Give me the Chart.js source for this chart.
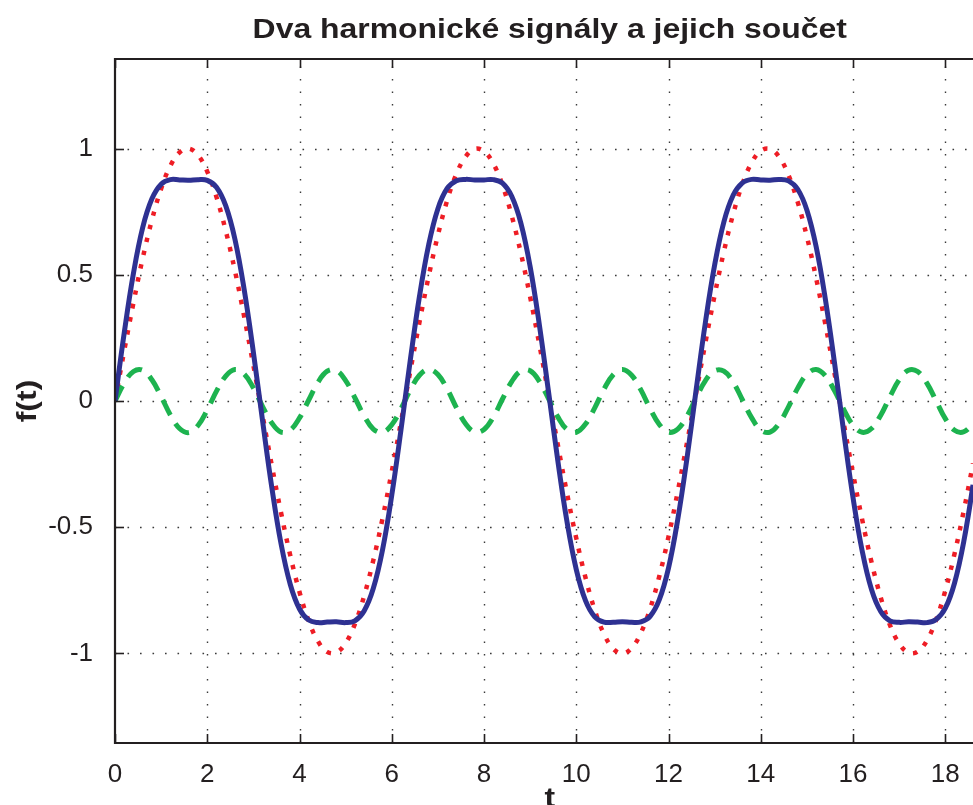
<!DOCTYPE html>
<html>
<head>
<meta charset="utf-8">
<script src="https://cdn.jsdelivr.net/npm/chart.js@4"></script>
<style>
  html, body { margin: 0; padding: 0; background: #fff; }
  #wrap { width: 973px; height: 805px; position: relative; }
</style>
</head>
<body>
<div id="wrap"><canvas id="c"></canvas></div>
<script>
// time samples (t)
const tValues = [
  0, 0.2, 0.4, 0.6, 0.8, 1, 1.2, 1.4, 1.6, 1.8,
  2, 2.2, 2.4, 2.6, 2.8, 3, 3.2, 3.4, 3.6, 3.8,
  4, 4.2, 4.4, 4.6, 4.8, 5, 5.2, 5.4, 5.6, 5.8,
  6, 6.2, 6.4, 6.6, 6.8, 7, 7.2, 7.4, 7.6, 7.8,
  8, 8.2, 8.4, 8.6, 8.8, 9, 9.2, 9.4, 9.6, 9.8,
  10, 10.2, 10.4, 10.6, 10.8, 11, 11.2, 11.4, 11.6, 11.8,
  12, 12.2, 12.4, 12.6, 12.8, 13, 13.2, 13.4, 13.6, 13.8,
  14, 14.2, 14.4, 14.6, 14.8, 15, 15.2, 15.4, 15.6, 15.8,
  16, 16.2, 16.4, 16.6, 16.8, 17, 17.2, 17.4, 17.6, 17.8,
  18, 18.2, 18.4, 18.6, 18.8
];

// red dotted signal
const redValues = [
  0, 0.199, 0.389, 0.565, 0.717, 0.841, 0.932, 0.985, 1.000, 0.974,
  0.909, 0.808, 0.675, 0.516, 0.335, 0.141, -0.058, -0.256, -0.443, -0.612,
  -0.757, -0.872, -0.952, -0.994, -0.996, -0.959, -0.884, -0.773, -0.631, -0.465,
  -0.279, -0.083, 0.117, 0.312, 0.494, 0.657, 0.794, 0.899, 0.968, 0.999,
  0.989, 0.941, 0.855, 0.734, 0.585, 0.412, 0.223, 0.025, -0.174, -0.367,
  -0.544, -0.700, -0.828, -0.923, -0.981, -1.000, -0.979, -0.919, -0.823, -0.694,
  -0.537, -0.358, -0.166, 0.034, 0.232, 0.420, 0.592, 0.740, 0.859, 0.944,
  0.991, 0.998, 0.966, 0.895, 0.788, 0.650, 0.486, 0.303, 0.108, -0.092,
  -0.288, -0.472, -0.638, -0.778, -0.888, -0.961, -0.997, -0.993, -0.949, -0.867,
  -0.751, -0.605, -0.435, -0.247, -0.050
];

// green dashed signal
const greenValues = [
  0, 0.071, 0.117, 0.122, 0.084, 0.018, -0.055, -0.109, -0.125, -0.097,
  -0.035, 0.039, 0.099, 0.125, 0.107, 0.052, -0.022, -0.087, -0.123, -0.115,
  -0.067, 0.004, 0.074, 0.118, 0.121, 0.081, 0.013, -0.059, -0.111, -0.124,
  -0.094, -0.031, 0.043, 0.102, 0.125, 0.105, 0.048, -0.026, -0.090, -0.123,
  -0.113, -0.064, 0.008, 0.077, 0.119, 0.120, 0.078, 0.009, -0.063, -0.113,
  -0.124, -0.091, -0.027, 0.047, 0.104, 0.125, 0.102, 0.044, -0.030, -0.093,
  -0.124, -0.111, -0.060, 0.013, 0.081, 0.120, 0.118, 0.075, 0.005, -0.066,
  -0.115, -0.123, -0.088, -0.023, 0.051, 0.106, 0.125, 0.100, 0.040, -0.034,
  -0.096, -0.124, -0.109, -0.056, 0.017, 0.084, 0.122, 0.117, 0.071, 0.001,
  -0.070, -0.116, -0.122, -0.085, -0.019
];

// blue solid sum
const blueValues = [
  0, 0.270, 0.506, 0.687, 0.801, 0.859, 0.877, 0.876, 0.875, 0.877,
  0.874, 0.847, 0.774, 0.641, 0.442, 0.193, -0.080, -0.343, -0.566, -0.727,
  -0.824, -0.868, -0.878, -0.876, -0.875, -0.878, -0.871, -0.832, -0.742, -0.589,
  -0.373, -0.114, 0.160, 0.414, 0.619, 0.762, 0.842, 0.873, 0.878, 0.876,
  0.876, 0.877, 0.863, 0.811, 0.704, 0.532, 0.301, 0.034, -0.237, -0.480,
  -0.668, -0.791, -0.855, -0.876, -0.877, -0.875, -0.877, -0.875, -0.853, -0.787,
  -0.661, -0.469, -0.226, 0.047, 0.313, 0.540, 0.710, 0.815, 0.864, 0.878,
  0.876, 0.875, 0.878, 0.872, 0.839, 0.756, 0.611, 0.403, 0.148, -0.126,
  -0.384, -0.596, -0.747, -0.834, -0.871, -0.877, -0.875, -0.876, -0.878, -0.866,
  -0.821, -0.721, -0.557, -0.332, -0.069
];

const xTickValues = [0, 2, 4, 6, 8, 10, 12, 14, 16, 18];
const yTickValues = [-1, -0.5, 0, 0.5, 1];
const yTickLabels = ['-1', '-0.5', '0', '0.5', '1'];

const titleText = 'Dva harmonické signály a jejich součet';
const xLabel = 't';
const yLabel = 'f(t)';

const xMin = 0, xMax = 18.6, xFullEnd = 18.85;
const yMin = -1.355, yMax = 1.355;

const axisColor = '#231f20';
const FONT = '"Liberation Sans", Arial, Helvetica, sans-serif';
const textStretch = 1.14; // labels in the figure are a bit wider than Arial

function pts(ys) {
  return tValues.map((t, i) => ({ x: t, y: ys[i] }));
}

function wideText(ctx, txt, x, y) {
  ctx.save();
  ctx.translate(x, y);
  ctx.scale(textStretch, 1);
  ctx.fillText(txt, 0, 0);
  ctx.restore();
}

// grid, axes, inward ticks, title and axis labels
const decor = {
  id: 'decor',
  beforeDatasetsDraw(chart) {
    const ctx = chart.ctx;
    const a = chart.chartArea;
    const xs = chart.scales.x, ys = chart.scales.y;
    ctx.save();
    ctx.strokeStyle = '#3a3a3a';
    ctx.lineWidth = 1.4;
    ctx.setLineDash([1.6, 10.9]);
    xTickValues.forEach(v => {
      if (v === xMin) return;
      const px = Math.round(xs.getPixelForValue(v)) + 0.5;
      ctx.beginPath();
      ctx.moveTo(px, a.bottom);
      ctx.lineTo(px, a.top);
      ctx.stroke();
    });
    yTickValues.forEach(v => {
      const py = Math.round(ys.getPixelForValue(v)) + 0.5;
      ctx.beginPath();
      ctx.moveTo(a.left, py);
      ctx.lineTo(a.right, py);
      ctx.stroke();
    });
    ctx.restore();
  },
  afterDraw(chart) {
    const ctx = chart.ctx;
    const a = chart.chartArea;
    const xs = chart.scales.x;
    const ys = chart.scales.y;
    ctx.save();
    ctx.strokeStyle = axisColor;
    ctx.lineWidth = 2.2;
    ctx.setLineDash([]);
    // left, bottom and top border
    ctx.beginPath();
    ctx.moveTo(a.right + 2, a.top);
    ctx.lineTo(a.left, a.top);
    ctx.lineTo(a.left, a.bottom);
    ctx.lineTo(a.right + 2, a.bottom);
    ctx.stroke();
    // inward ticks
    ctx.lineWidth = 1.6;
    const tl = 9;
    xTickValues.forEach(v => {
      const px = Math.round(xs.getPixelForValue(v)) + 0.5;
      ctx.beginPath();
      ctx.moveTo(px, a.bottom); ctx.lineTo(px, a.bottom - tl);
      ctx.moveTo(px, a.top); ctx.lineTo(px, a.top + tl);
      ctx.stroke();
    });
    yTickValues.forEach(v => {
      const py = Math.round(ys.getPixelForValue(v)) + 0.5;
      ctx.beginPath();
      ctx.moveTo(a.left, py); ctx.lineTo(a.left + tl, py);
      ctx.stroke();
    });
    // title + axis labels
    ctx.fillStyle = axisColor;
    ctx.font = 'bold 28px ' + FONT;
    ctx.textAlign = 'center';
    ctx.textBaseline = 'alphabetic';
    const cx = (a.left + xs.getPixelForValue(xFullEnd)) / 2;
    wideText(ctx, titleText, cx, 38);
    wideText(ctx, xLabel, cx, 807);
    ctx.translate(28, (a.top + a.bottom) / 2);
    ctx.rotate(-Math.PI / 2);
    ctx.textBaseline = 'middle';
    wideText(ctx, yLabel, 0, 0);
    ctx.restore();
  }
};

new Chart(document.getElementById('c'), {
  type: 'line',
  data: {
    datasets: [
      {
        label: 'soucet',
        data: pts(blueValues),
        borderColor: '#2e3192',
        borderWidth: 5,
        order: 0
      },
      {
        label: 'signal 1',
        data: pts(redValues),
        borderColor: '#ee1d25',
        borderWidth: 4.5,
        borderDash: [4.5, 9],
        order: 2
      },
      {
        label: 'signal 2',
        data: pts(greenValues),
        borderColor: '#1db34f',
        borderWidth: 5,
        borderDash: [17, 10],
        order: 1
      }
    ]
  },
  options: {
    responsive: true,
    maintainAspectRatio: false,
    animation: false,
    elements: {
      point: { radius: 0 },
      line: { tension: 0.4, fill: false }
    },
    layout: { padding: { top: 59, right: 0, left: 0, bottom: 0 } },
    scales: {
      x: {
        type: 'linear',
        min: xMin,
        max: xMax,
        afterBuildTicks: s => { s.ticks = xTickValues.map(v => ({ value: v })); },
        afterFit: s => { s.height = 62; },
        grid: { display: false },
        border: { display: false },
        ticks: {
          color: axisColor,
          font: { family: FONT, size: 26 },
          padding: 8,
          maxRotation: 0,
          autoSkip: false,
          callback: v => String(v)
        }
      },
      y: {
        type: 'linear',
        min: yMin,
        max: yMax,
        afterBuildTicks: s => { s.ticks = yTickValues.map(v => ({ value: v })); },
        afterFit: s => { s.width = 115; },
        grid: { display: false },
        border: { display: false },
        ticks: {
          color: axisColor,
          font: { family: FONT, size: 26 },
          padding: 14,
          autoSkip: false,
          callback: v => yTickLabels[yTickValues.indexOf(v)]
        }
      }
    },
    plugins: {
      legend: { display: false },
      title: { display: false },
      tooltip: { enabled: false }
    }
  },
  plugins: [decor]
});
</script>
</body>
</html>
